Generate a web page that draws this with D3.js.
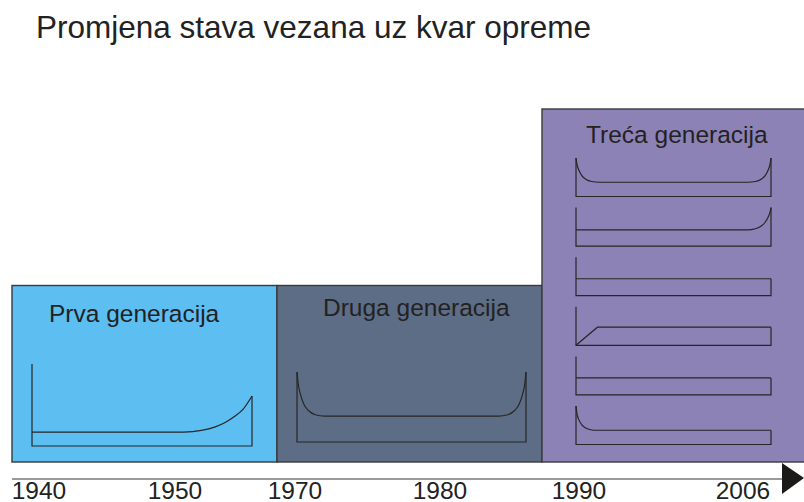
<!DOCTYPE html>
<html>
<head>
<meta charset="utf-8">
<script src="https://cdn.jsdelivr.net/npm/d3@7"></script>
<style>
  html, body { margin: 0; padding: 0; background: #fff; }
  svg { display: block; font-family: "Liberation Sans", Arial, sans-serif; }
</style>
</head>
<body>
<svg id="chart"></svg>
<script>
// generations and their relative "expectation" level (box height)
const generations = ['Prva generacija', 'Druga generacija', 'Treća generacija'];
const genLevels = [1, 1, 2];

// time axis labels
const years = [1940, 1950, 1970, 1980, 1990, 2006];

// failure patterns: [relative age, conditional failure probability]
const gen1Pattern = [[0, 0.17], [0.69, 0.17], [0.77, 0.19], [0.83, 0.23], [0.88, 0.29], [0.92, 0.36], [0.96, 0.45], [1, 0.61]];
const gen2Pattern = [[0, 1], [0.005, 0.84], [0.015, 0.68], [0.03, 0.54], [0.05, 0.45], [0.08, 0.39], [0.12, 0.37], [0.88, 0.37], [0.92, 0.39], [0.95, 0.45], [0.97, 0.54], [0.985, 0.68], [0.995, 0.84], [1, 1]];
const patternA = [[0, 1], [0.005, 0.84], [0.015, 0.68], [0.03, 0.54], [0.05, 0.45], [0.08, 0.39], [0.12, 0.37], [0.88, 0.37], [0.92, 0.39], [0.95, 0.45], [0.97, 0.54], [0.985, 0.68], [0.995, 0.84], [1, 1]];
const patternB = [[0, 0.42], [0.88, 0.42], [0.92, 0.45], [0.95, 0.52], [0.97, 0.62], [0.985, 0.75], [0.995, 0.88], [1, 1]];
const patternC = [[0, 0.44], [1, 0.44]];
const patternD = [[0, 0], [0.11, 0.47], [1, 0.47]];
const patternE = [[0, 0.44], [1, 0.44]];
const patternF = [[0, 1], [0.005, 0.8], [0.015, 0.64], [0.03, 0.51], [0.05, 0.43], [0.07, 0.39], [0.09, 0.37], [1, 0.37]];
const gen3Patterns = [patternA, patternB, patternC, patternD, patternE, patternF];

const width = 804, height = 502;
const colors = ['#5dbef2', '#5e6d86', '#8d82b6'];
const ink = '#262626';

const svg = d3.select('#chart').attr('width', width).attr('height', height);

// title
svg.append('text')
    .attr('x', 36).attr('y', 38)
    .attr('font-size', 31.5).attr('fill', '#222')
    .text('Promjena stava vezana uz kvar opreme');

// generation boxes
const xGen = d3.scaleBand().domain(generations).range([12, 807]).padding(0);
const yLevel = d3.scaleLinear().domain([0, 2]).range([462, 109]);

svg.selectAll('.gen')
    .data(generations)
    .join('rect')
    .attr('class', 'gen')
    .attr('x', d => xGen(d))
    .attr('y', (d, i) => yLevel(genLevels[i]))
    .attr('width', xGen.bandwidth())
    .attr('height', (d, i) => yLevel(0) - yLevel(genLevels[i]))
    .attr('fill', (d, i) => colors[i])
    .attr('stroke', '#3a3a3a')
    .attr('stroke-width', 1.4);

// generation labels
const labelPos = [[49, 322], [323, 316], [586, 143]];
svg.selectAll('.gen-label')
    .data(generations)
    .join('text')
    .attr('class', 'gen-label')
    .attr('x', (d, i) => labelPos[i][0])
    .attr('y', (d, i) => labelPos[i][1])
    .attr('font-size', 24.5)
    .attr('fill', '#222')
    .text(d => d);

// one small failure pattern plot
function drawPattern(data, x0, x1, top, bottom, curve) {
    const x = d3.scaleLinear().domain([0, 1]).range([x0, x1]);
    const y = d3.scaleLinear().domain([0, 1]).range([bottom, top]);
    const g = svg.append('g')
        .attr('fill', 'none')
        .attr('stroke', ink)
        .attr('stroke-width', 1.2);
    g.append('path').attr('d', d3.line()([[x(0), y(1)], [x(0), y(0)], [x(1), y(0)], [x(1), y(data[data.length - 1][1])]]));
    g.append('path')
        .attr('d', d3.line().x(d => x(d[0])).y(d => y(d[1])).curve(curve)(data));
}

drawPattern(gen1Pattern, 32, 252, 364, 446, d3.curveMonotoneX);
drawPattern(gen2Pattern, 297, 526, 372, 442, d3.curveMonotoneX);

const yPanel = d3.scaleBand().domain(d3.range(gen3Patterns.length)).range([158, 444.5]).paddingInner(0.224);
gen3Patterns.forEach((p, i) => {
    drawPattern(p, 576, 771, yPanel(i), yPanel(i) + yPanel.bandwidth(),
        p === patternD ? d3.curveLinear : d3.curveMonotoneX);
});

// time axis
const xYear = d3.scaleLinear().domain(years).range([39, 175, 295, 440, 579, 743]);
svg.append('line')
    .attr('x1', 12).attr('x2', 782)
    .attr('y1', 479).attr('y2', 479)
    .attr('stroke', '#9a9a9a').attr('stroke-width', 2);
svg.append('path')
    .attr('d', d3.line()([[782, 463], [804, 478], [782, 494]]) + 'Z')
    .attr('fill', '#1c1a18');

svg.selectAll('.year')
    .data(years)
    .join('text')
    .attr('class', 'year')
    .attr('x', d => xYear(d))
    .attr('y', 499)
    .attr('text-anchor', 'middle')
    .attr('font-size', 24.5)
    .attr('fill', '#222')
    .text(d => d);
</script>
</body>
</html>
